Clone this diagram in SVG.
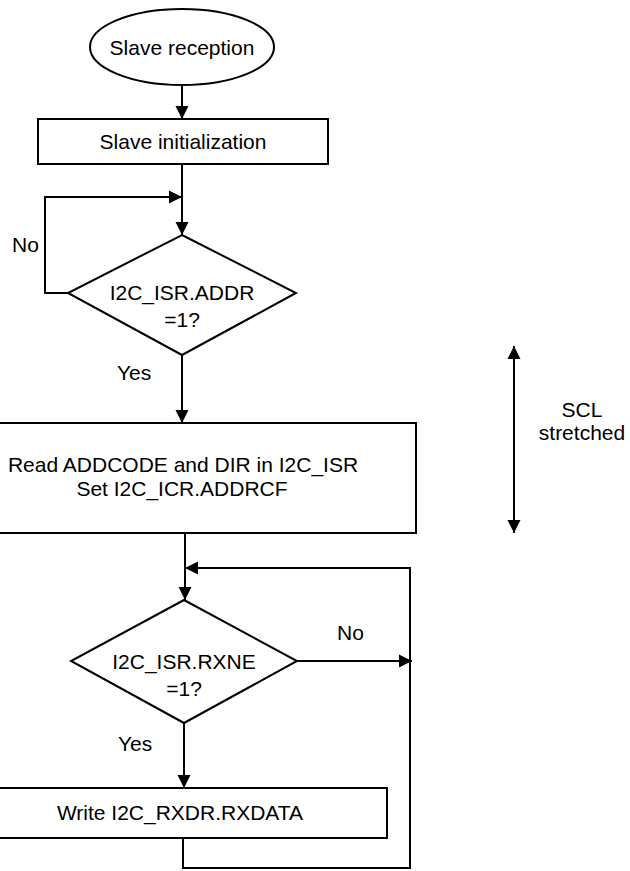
<svg xmlns="http://www.w3.org/2000/svg" width="630" height="871" viewBox="0 0 630 871">
<style>
.s{fill:#fff;stroke:#000;stroke-width:2}
.c{fill:none;stroke:#000;stroke-width:2}
text{font-family:"Liberation Sans",Arial,sans-serif;font-size:21px;fill:#000}
.m{text-anchor:middle}
</style>
<defs>
<marker id="a" markerUnits="userSpaceOnUse" markerWidth="14" markerHeight="14" refX="13" refY="7" orient="auto-start-reverse">
<path d="M0,0.5 L13,7 L0,13.5 z" fill="#000"/>
</marker>
</defs>
<g id="start"><ellipse class="s" cx="182" cy="47" rx="92" ry="38"/><text class="m" x="182" y="55">Slave reception</text></g>
<g id="init"><rect class="s" x="38" y="119" width="290" height="45"/><text class="m" x="183" y="149">Slave initialization</text></g>
<g id="dec1"><polygon class="s" points="182,235 296,293 182,355 68,293"/><text class="m" x="182" y="300">I2C_ISR.ADDR</text><text class="m" x="182" y="327">=1?</text></g>
<g id="read"><rect class="s" x="-2" y="423" width="418" height="110"/><text class="m" x="183" y="472">Read ADDCODE and DIR in I2C_ISR</text><text class="m" x="182" y="496">Set I2C_ICR.ADDRCF</text></g>
<g id="dec2"><polygon class="s" points="184,600 297,661 184,723 71,661"/><text class="m" x="184" y="669">I2C_ISR.RXNE</text><text class="m" x="184" y="696">=1?</text></g>
<g id="write"><rect class="s" x="-2" y="788" width="389" height="50"/><text class="m" x="180" y="820">Write I2C_RXDR.RXDATA</text></g>
<g id="connectors">
<line class="c" x1="182" y1="85" x2="182" y2="119" marker-end="url(#a)"/>
<line class="c" x1="182" y1="164" x2="182" y2="235" marker-end="url(#a)"/>
<polyline class="c" points="68,293 45,293 45,197 182,197" marker-end="url(#a)"/>
<line class="c" x1="182" y1="355" x2="182" y2="423" marker-end="url(#a)"/>
<line class="c" x1="185" y1="533" x2="185" y2="600" marker-end="url(#a)"/>
<line class="c" x1="297" y1="661" x2="412" y2="661" marker-end="url(#a)"/>
<polyline class="c" points="183,838 183,868 410,868 410,568 185,568" marker-end="url(#a)"/>
<line class="c" x1="184" y1="723" x2="184" y2="788" marker-end="url(#a)"/>
<line class="c" x1="514" y1="346" x2="514" y2="533" marker-start="url(#a)" marker-end="url(#a)"/>
<text x="12" y="252">No</text>
<text x="117" y="380">Yes</text>
<text x="337" y="640">No</text>
<text x="118" y="751">Yes</text>
<text class="m" x="582" y="417">SCL</text>
<text class="m" x="582" y="440">stretched</text>
</g>
</svg>
